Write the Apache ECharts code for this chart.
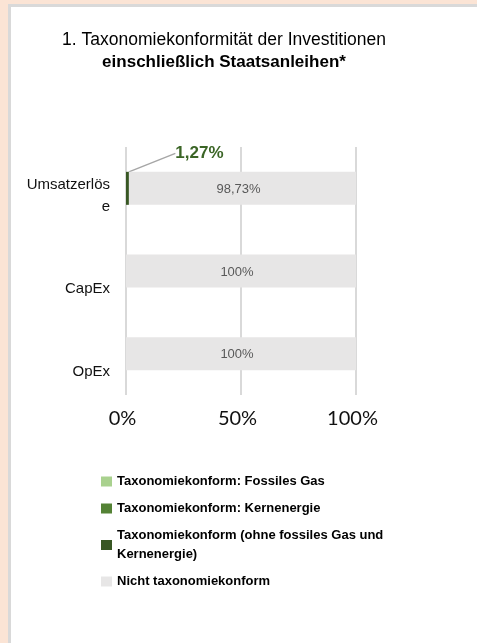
<!DOCTYPE html>
<html>
<head>
<meta charset="utf-8">
<script src="https://cdn.jsdelivr.net/npm/echarts@6/dist/echarts.min.js"></script>
<style>
  html, body { margin: 0; padding: 0; width: 477px; height: 643px; background: #fbe4d5; overflow: hidden; }
  .panel { position: absolute; left: 8px; top: 4px; right: 0; bottom: 0; background: #fff;
           border-left: 3px solid #d9d9d9; border-top: 3px solid #d9d9d9; }
  #chart { position: absolute; left: 0; top: 0; width: 477px; height: 643px; }
</style>
</head>
<body>
<div class="panel"></div>
<div id="chart"></div>
<script>
var categories = ['Umsatzerlöse', 'CapEx', 'OpEx'];
var seriesNames = [
  'Taxonomiekonform: Fossiles Gas',
  'Taxonomiekonform: Kernenergie',
  'Taxonomiekonform (ohne fossiles Gas und Kernenergie)',
  'Nicht taxonomiekonform'
];
var fossilGas = [0, 0, 0];
var nuclear = [0, 0, 0];
var alignedOther = [1.27, 0, 0];
var notAligned = [98.73, 100, 100];
var colors = ['#a9d18e', '#548235', '#385723', '#e7e6e6'];

var sans = '"Liberation Sans", Arial, sans-serif';

function pct(v) {
  return String(v).replace('.', ',') + '%';
}

var chart = echarts.init(document.getElementById('chart'));

var option = {
  animation: false,
  title: {
    left: 219,
    top: 24,
    textAlign: 'center',
    text: '{a|1. Taxonomiekonformität der Investitionen}\n{b|einschließlich Staatsanleihen*}',
    textStyle: {
      rich: {
        a: { fontFamily: sans, fontSize: 17.5, fontWeight: 'normal', color: '#000', lineHeight: 22 },
        b: { fontFamily: sans, fontSize: 17, fontWeight: 'bold', color: '#000', lineHeight: 22 }
      }
    }
  },
  legend: {
    orient: 'vertical',
    left: 101,
    top: 472,
    padding: 0,
    itemGap: 8,
    itemWidth: 11,
    itemHeight: 10,
    icon: 'rect',
    data: seriesNames,
    formatter: function (name) {
      return name === seriesNames[2] ? 'Taxonomiekonform (ohne fossiles Gas und\nKernenergie)' : name;
    },
    textStyle: { fontFamily: sans, fontSize: 13, fontWeight: 'bold', color: '#000', lineHeight: 19 }
  },
  grid: { left: 126, right: 121, top: 147, bottom: 248 },
  xAxis: {
    type: 'value',
    min: 0,
    max: 100,
    interval: 50,
    axisLine: { show: false },
    axisTick: { show: false },
    splitLine: { show: true, lineStyle: { color: '#d9d9d9', width: 2 } },
    axisLabel: {
      formatter: '{value}%',
      fontFamily: 'Lato, "Open Sans", sans-serif',
      fontSize: 20,
      color: '#111',
      margin: 14,
      padding: [0, 7, 0, 0]
    }
  },
  yAxis: {
    type: 'category',
    inverse: true,
    data: categories,
    axisLine: { show: false },
    axisTick: { show: false },
    axisLabel: {
      margin: 16,
      fontFamily: sans,
      fontSize: 15,
      color: '#111',
      formatter: function (v) {
        return v === 'Umsatzerlöse'
          ? '{s2| }\n{t|Umsatzerlös}\n{t|e}'
          : '{s1| }\n{t|' + v + '}';
      },
      rich: {
        s1: { fontSize: 4, lineHeight: 36 },
        s2: { fontSize: 4, lineHeight: 16 },
        t: { fontFamily: sans, fontSize: 15, color: '#111', lineHeight: 22 }
      }
    }
  },
  series: [
    {
      name: seriesNames[0], type: 'bar', stack: 'total', barWidth: 33,
      itemStyle: { color: colors[0] }, data: fossilGas
    },
    {
      name: seriesNames[1], type: 'bar', stack: 'total', barWidth: 33,
      itemStyle: { color: colors[1] }, data: nuclear
    },
    {
      name: seriesNames[2], type: 'bar', stack: 'total', barWidth: 33,
      itemStyle: { color: colors[2] },
      data: alignedOther.map(function (v) {
        return { value: v, label: { show: v > 0 }, labelLine: { show: v > 0 } };
      }),
      label: {
        position: 'top',
        distance: 4,
        formatter: function (p) { return pct(p.value); },
        fontFamily: sans,
        fontSize: 17,
        fontWeight: 'bold',
        color: '#3b6526'
      },
      labelLayout: { dx: 72, dy: -6 },
      labelLine: { lineStyle: { color: '#a6a6a6', width: 1.5 } }
    },
    {
      name: seriesNames[3], type: 'bar', stack: 'total', barWidth: 33,
      itemStyle: { color: colors[3] }, data: notAligned,
      label: {
        show: true,
        position: 'inside',
        offset: [-4, 1],
        formatter: function (p) { return pct(p.value); },
        fontFamily: sans,
        fontSize: 13,
        color: '#595959'
      }
    }
  ]
};

chart.setOption(option);
</script>
</body>
</html>
